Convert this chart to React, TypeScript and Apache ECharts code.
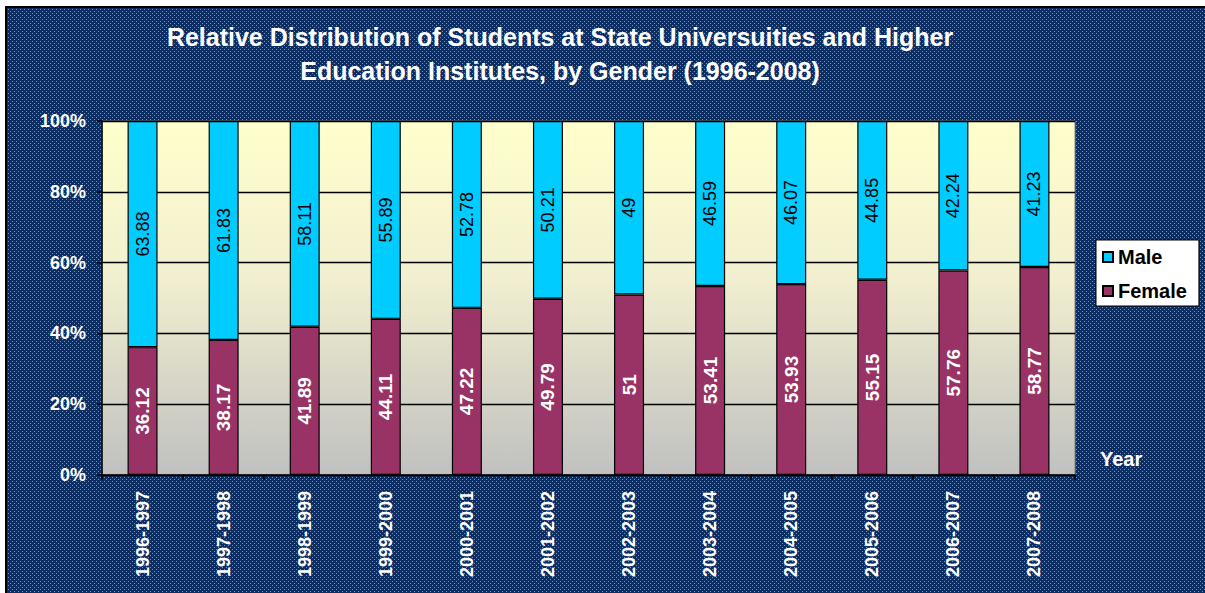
import React, { useEffect, useRef } from "react";
import * as echarts from "echarts";

const years = [
  "1996-1997", "1997-1998", "1998-1999", "1999-2000", "2000-2001", "2001-2002",
  "2002-2003", "2003-2004", "2004-2005", "2005-2006", "2006-2007", "2007-2008",
];
const female = [36.12, 38.17, 41.89, 44.11, 47.22, 49.79, 51, 53.41, 53.93, 55.15, 57.76, 58.77];
const male = [63.88, 61.83, 58.11, 55.89, 52.78, 50.21, 49, 46.59, 46.07, 44.85, 42.24, 41.23];
const yTicks = [0, 20, 40, 60, 80, 100];

const FONT = "'Liberation Sans', Arial, sans-serif";
const pattern =
  "url(\"data:image/svg+xml;utf8,<svg xmlns='http://www.w3.org/2000/svg' width='4' height='4'><rect width='4' height='4' fill='%230c2e62'/><rect x='1' y='1' width='1' height='1' fill='%237f8ea6'/><rect x='3' y='3' width='1' height='1' fill='%237f8ea6'/></svg>\")";

export default function App() {
  const ref = useRef<HTMLDivElement>(null);
  useEffect(() => {
    if (!ref.current) return;
    const chart = echarts.init(ref.current, null, { renderer: "svg" });
    chart.setOption({
      animation: false,
      backgroundColor: "transparent",
      title: {
        text: "Relative Distribution of Students at State Universuities and Higher\nEducation Institutes, by Gender (1996-2008)",
        left: 560,
        top: 20,
        textAlign: "center",
        padding: 0,
        textStyle: {
          color: "#ffffff",
          fontFamily: FONT,
          fontWeight: "bold",
          fontSize: 25,
          lineHeight: 34,
        },
      },
      legend: {
        data: ["Male", "Female"],
        orient: "vertical",
        left: 1096,
        top: 240,
        backgroundColor: "#ffffff",
        borderColor: "#000000",
        borderWidth: 1,
        borderRadius: 0,
        padding: [6, 12, 4, 6],
        itemWidth: 10,
        itemHeight: 10,
        itemGap: 12,
        icon: "rect",
        textStyle: { color: "#000000", fontFamily: FONT, fontWeight: "bold", fontSize: 20, lineHeight: 22 },
      },
      grid: {
        left: 102,
        right: 130,
        top: 121,
        bottom: 118,
        show: true,
        borderColor: "#808080",
        borderWidth: 1,
        backgroundColor: new echarts.graphic.LinearGradient(0, 0, 0, 1, [
          { offset: 0, color: "#ffffcc" },
          { offset: 0.45, color: "#f1efcf" },
          { offset: 1, color: "#c0c0c0" },
        ]),
      },
      xAxis: {
        type: "category",
        data: years,
        name: "Year",
        nameLocation: "end",
        nameGap: 25,
        nameTextStyle: {
          color: "#ffffff",
          fontFamily: FONT,
          fontWeight: "bold",
          fontSize: 20,
          verticalAlign: "bottom",
          padding: [0, 0, 6, 0],
        },
        axisLine: { show: true, lineStyle: { color: "#000000", width: 1.5 } },
        axisTick: { show: true, alignWithLabel: false, length: 5, lineStyle: { color: "#000000", width: 1.5 } },
        axisLabel: {
          rotate: 90,
          margin: 16,
          color: "#ffffff",
          fontFamily: FONT,
          fontWeight: "bold",
          fontSize: 18,
          interval: 0,
        },
        splitLine: { show: false },
      },
      yAxis: {
        type: "value",
        min: yTicks[0],
        max: yTicks[yTicks.length - 1],
        interval: 20,
        axisLine: { show: true, lineStyle: { color: "#000000", width: 1.5 } },
        axisTick: { show: true, length: 5, lineStyle: { color: "#000000", width: 1.5 } },
        axisLabel: {
          formatter: "{value}%",
          margin: 16,
          color: "#ffffff",
          fontFamily: FONT,
          fontWeight: "bold",
          fontSize: 18,
        },
        splitLine: { show: true, lineStyle: { color: "#000000", width: 1.3 } },
      },
      series: [
        {
          name: "Female",
          type: "bar",
          stack: "total",
          data: female,
          barWidth: "37%",
          itemStyle: { color: "#993366", borderColor: "#000000", borderWidth: 1.2 },
          label: {
            show: true,
            position: "inside",
            rotate: 90,
            formatter: "{c}",
            color: "#ffffff",
            fontFamily: FONT,
            fontWeight: "bold",
            fontSize: 19,
          },
        },
        {
          name: "Male",
          type: "bar",
          stack: "total",
          data: male,
          barWidth: "37%",
          itemStyle: { color: "#00ccff", borderColor: "#000000", borderWidth: 1.2 },
          label: {
            show: true,
            position: "inside",
            rotate: 90,
            formatter: "{c}",
            color: "#000000",
            fontFamily: FONT,
            fontWeight: "normal",
            fontSize: 18,
          },
        },
      ],
    });
    return () => chart.dispose();
  }, []);

  return (
    <div style={{ position: "absolute", left: 0, top: 0, width: 1205, height: 593, background: "#ffffff", overflow: "hidden" }}>
      <div
        style={{
          position: "absolute",
          left: 5,
          top: 6,
          width: 1205,
          height: 593,
          borderLeft: "2px solid #000",
          borderTop: "2px solid #000",
          backgroundColor: "#0c2e62",
          backgroundImage: pattern,
          backgroundRepeat: "repeat",
        }}
      />
      <div ref={ref} style={{ position: "absolute", left: 0, top: 0, width: 1205, height: 593 }} />
    </div>
  );
}
